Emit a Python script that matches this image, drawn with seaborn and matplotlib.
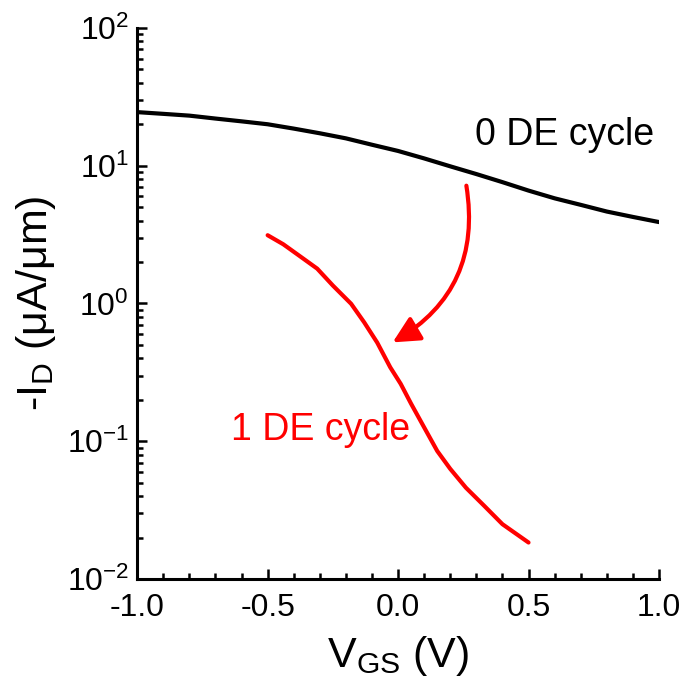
import pandas as pd
import matplotlib
matplotlib.use("Agg")
import matplotlib.pyplot as plt
import seaborn as sns
from matplotlib.ticker import MultipleLocator, LogLocator

# data
v_0de = [-1.0, -0.9, -0.8, -0.7, -0.6, -0.5, -0.4, -0.3, -0.2, -0.1, 0.0,
         0.1, 0.2, 0.3, 0.4, 0.5, 0.6, 0.7, 0.8, 0.9, 1.0]
i_0de = [24.5, 23.8, 23.1, 22.0, 21.0, 20.0, 18.6, 17.2, 15.8, 14.2, 12.8,
         11.3, 9.9, 8.7, 7.6, 6.6, 5.8, 5.2, 4.65, 4.25, 3.9]

v_1de = [-0.5, -0.44, -0.38, -0.31, -0.25, -0.18, -0.13, -0.08, -0.03, 0.01,
         0.05, 0.10, 0.15, 0.20, 0.26, 0.33, 0.40, 0.50]
i_1de = [3.13, 2.69, 2.23, 1.79, 1.35, 0.995, 0.73, 0.52, 0.344, 0.261,
         0.187, 0.126, 0.085, 0.063, 0.046, 0.034, 0.025, 0.0184]

sns.set_style("ticks")
plt.rcParams["font.family"] = ["Liberation Sans", "DejaVu Sans"]
plt.rcParams["mathtext.fontset"] = "custom"
plt.rcParams["mathtext.rm"] = "Liberation Sans"
for key in ["text.color", "axes.labelcolor", "xtick.color", "ytick.color", "axes.edgecolor"]:
    plt.rcParams[key] = "black"

df0 = pd.DataFrame({"V": v_0de, "I": i_0de})
df1 = pd.DataFrame({"V": v_1de, "I": i_1de})

fig = plt.figure(figsize=(6.86, 6.94), dpi=100)
ax = fig.add_axes([0.2, 0.1657, 0.7606, 0.794])

sns.lineplot(data=df0, x="V", y="I", color="black", linewidth=3, ax=ax)
sns.lineplot(data=df1, x="V", y="I", color="red", linewidth=3, ax=ax)

ax.set_yscale("log")
ax.set_xlim(-1.0, 1.0)
ax.set_ylim(1e-2, 1e2)

ax.xaxis.set_major_locator(MultipleLocator(0.5))
ax.xaxis.set_minor_locator(MultipleLocator(0.1))
ax.xaxis.set_major_formatter(plt.FuncFormatter(lambda x, p: f"{x:.1f}"))
ax.yaxis.set_major_locator(LogLocator(base=10, numticks=10))
ax.yaxis.set_minor_locator(LogLocator(base=10, subs=range(2, 10), numticks=20))

ax.tick_params(which="both", direction="in", width=1.8, labelsize=23)
ax.tick_params(which="major", length=7)
ax.tick_params(which="minor", length=4.5)
ax.tick_params(axis="x", pad=10)
ax.tick_params(axis="y", pad=6)

sns.despine(ax=ax)
for s in ["left", "bottom"]:
    ax.spines[s].set_linewidth(2.2)

ax.set_xlabel(r"V$_\mathregular{GS}$ (V)", fontsize=31, labelpad=8)
ax.set_ylabel(r"-I$_\mathregular{D}$ ($\mathregular{\mu}$A/$\mathregular{\mu}$m)", fontsize=31, labelpad=6)

ax.text(0.295, 14.1, "0 DE cycle", fontsize=27, color="black", va="baseline")
ax.text(-0.64, 0.1026, "1 DE cycle", fontsize=27, color="red", va="baseline")

ax.annotate("", xy=(-0.03, 0.51), xytext=(0.26, 7.5),
            arrowprops=dict(arrowstyle="-|>", color="red", lw=3,
                            mutation_scale=40,
                            connectionstyle="arc3,rad=-0.35"))

fig.savefig("out.png", dpi=100)
